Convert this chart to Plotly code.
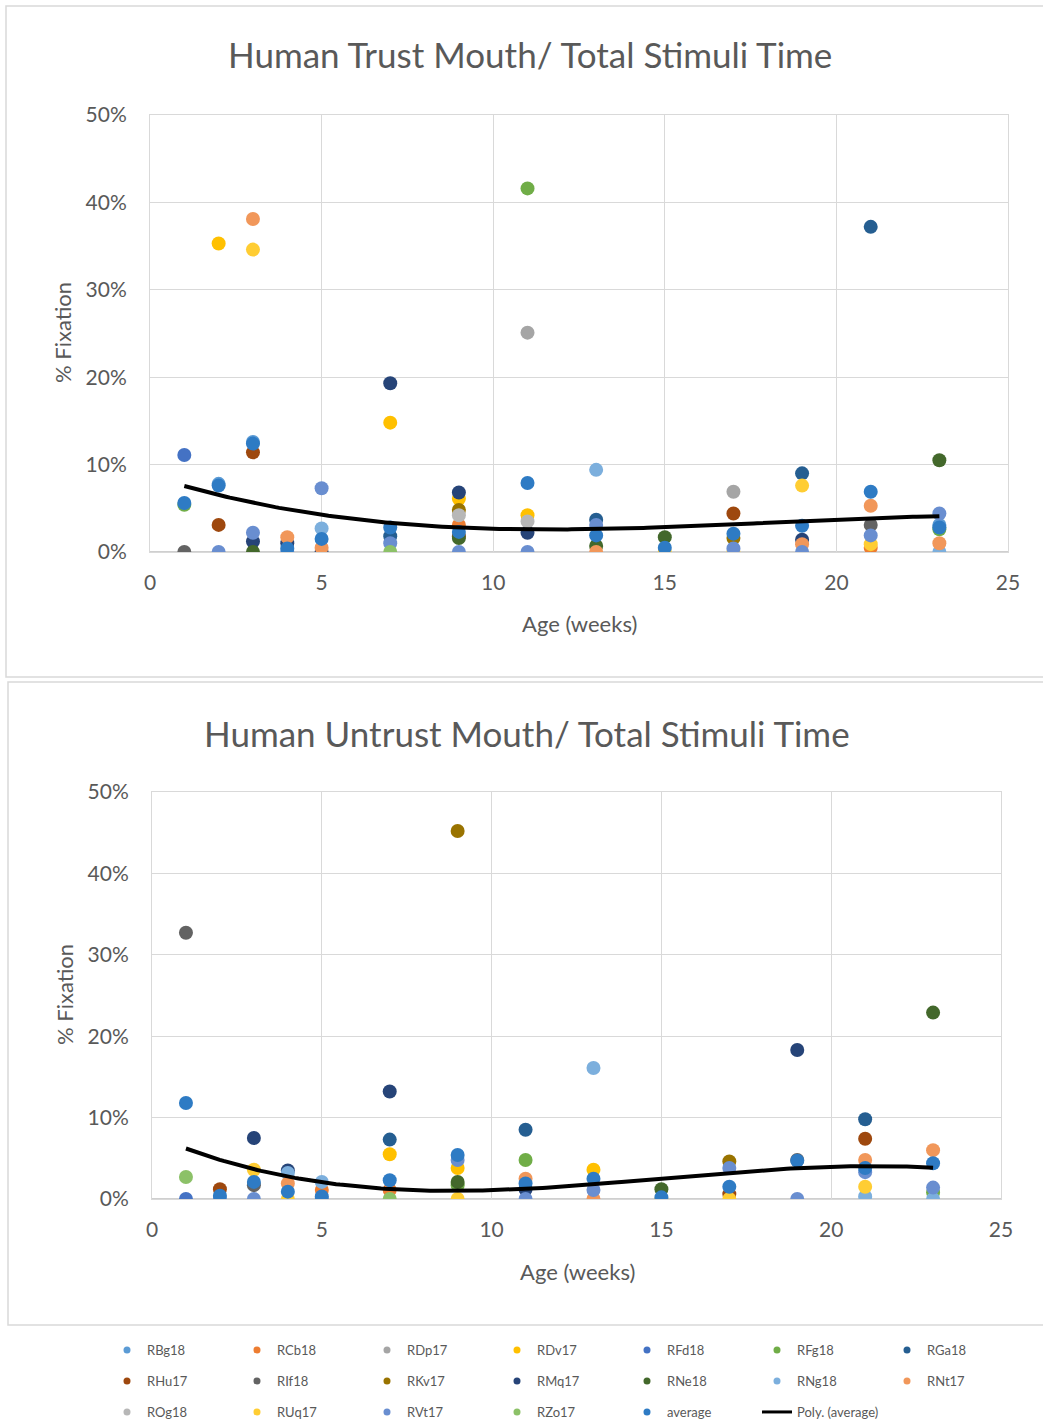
import numpy as np
import plotly.graph_objects as go

N = None
AGES = [1, 2, 3, 4, 5, 7, 9, 11, 13, 15, 17, 19, 21, 23]

NAMES = ["RBg18", "RCb18", "RDp17", "RDv17", "RFd18", "RFg18", "RGa18",
         "RHu17", "RIf18", "RKv17", "RMq17", "RNe18", "RNg18", "RNt17",
         "ROg18", "RUq17", "RVt17", "RZo17", "average"]
COLORS = ["#5B9BD5", "#ED7D31", "#A5A5A5", "#FFC000", "#4472C4", "#70AD47", "#255E91",
          "#9E480E", "#636363", "#997300", "#264478", "#43682B", "#7CAFDD", "#F1975A",
          "#B7B7B7", "#FFCD33", "#698ED0", "#8CC168", "#2E7BC4"]

# % fixation on the mouth, trusted face (per infant, per age in weeks)
t_RBg18 = [N, 7.8, 12.6, N, N, N, N, N, N, N, N, N, N, 3.1]
t_RCb18 = [N, N, N, N, N, N, 3.1, N, N, N, N, N, 0.5, N]
t_RDp17 = [N, N, N, N, N, N, N, 25.1, N, N, 6.9, N, N, N]
t_RDv17 = [N, 35.3, N, N, N, 14.8, 6.1, 4.2, N, N, N, N, N, N]
t_RFd18 = [11.1, N, N, N, N, N, N, N, N, N, N, N, N, N]
t_RFg18 = [5.4, N, N, N, N, N, N, 41.6, N, N, N, N, N, 2.6]
t_RGa18 = [N, N, N, N, N, 1.8, N, N, 3.7, N, N, 9.0, 37.2, N]
t_RHu17 = [N, 3.1, 11.4, N, N, N, 1.8, N, N, N, 4.4, N, N, N]
t_RIf18 = [0, N, N, N, N, N, N, N, N, N, N, N, 3.1, N]
t_RKv17 = [N, N, N, N, N, N, 4.8, N, N, N, 1.6, N, N, N]
t_RMq17 = [N, N, 1.2, 1.0, 0, 19.3, 6.8, 2.2, N, N, N, 1.4, N, N]
t_RNe18 = [N, N, 0, N, N, N, 1.6, N, 0.7, 1.7, N, N, N, 10.5]
t_RNg18 = [N, N, N, N, 2.7, N, N, N, 9.4, N, N, N, N, 0]
t_RNt17 = [N, N, 38.1, 1.7, 0.5, N, N, N, 0, N, N, 0.9, 5.3, 1.0]
t_ROg18 = [N, N, N, N, N, N, 4.2, 3.5, N, N, N, N, N, N]
t_RUq17 = [N, N, 34.6, N, N, N, N, N, N, 0, 0, 7.6, 0.9, N]
t_RVt17 = [N, 0, 2.2, 0, 7.3, 1.0, 0, 0, 3.1, N, 0.4, 0, 1.9, 4.4]
t_RZo17 = [N, N, N, N, N, 0, N, N, N, N, N, N, N, N]
t_average = [5.6, 7.6, 12.4, 0.4, 1.5, 2.8, 2.3, 7.9, 1.9, 0.5, 2.1, 3.0, 6.9, 2.8]

# % fixation on the mouth, untrusted face
u_RBg18 = [N] * 14
u_RCb18 = [N, N, N, N, 1.1, 1.1, N, N, N, N, N, N, N, N]
u_RDp17 = [N] * 14
u_RDv17 = [N, N, N, N, N, 5.5, 3.8, N, 3.6, N, N, N, N, N]
u_RFd18 = [0, N, N, N, N, N, N, N, N, N, N, N, N, N]
u_RFg18 = [N, N, N, N, N, N, 1.7, 4.8, N, N, N, N, N, 0.8]
u_RGa18 = [N, N, N, N, N, 7.3, N, 8.5, N, N, N, N, 9.8, N]
u_RHu17 = [N, 1.2, N, N, N, N, N, N, N, N, 0.6, N, 7.4, N]
u_RIf18 = [32.7, N, 1.7, N, N, N, N, N, N, N, N, 4.8, N, N]
u_RKv17 = [N, N, N, N, N, N, 45.2, N, N, N, 4.6, N, N, N]
u_RMq17 = [N, N, 7.5, 3.5, N, 13.2, N, 1.2, N, N, N, 18.3, N, N]
u_RNe18 = [N, N, N, N, N, N, 2.1, N, N, 1.2, N, N, N, 22.9]
u_RNg18 = [N, N, N, 3.2, 2.1, N, N, N, 16.1, N, N, N, 0.3, 0]
u_RNt17 = [N, N, N, 1.9, N, N, N, 2.5, 0, N, N, N, 4.8, 6.0]
u_ROg18 = [N] * 14
u_RUq17 = [N, N, 3.6, 0, N, N, 0, N, N, 0, 0, N, 1.5, N]
u_RVt17 = [N, 0, 0, N, 0, N, 4.8, 0, 1.1, N, 3.8, 0, 3.3, 1.4]
u_RZo17 = [2.7, N, N, N, N, 0, N, N, N, N, N, N, N, N]
u_average = [11.8, 0.4, 2.1, 0.9, 0.3, 2.3, 5.4, 1.9, 2.5, 0.2, 1.5, 4.7, 3.8, 4.4]

TITLE_TRUST = "Human Trust Mouth/ Total Stimuli Time"
TITLE_UNTRUST = "Human Untrust Mouth/ Total Stimuli Time"

trust = {n: globals()["t_" + n] for n in NAMES}
untrust = {n: globals()["u_" + n] for n in NAMES}

W, H = 1043, 1423
FONT = "Lato, Carlito, Calibri, sans-serif"
TXT = "#595959"
GRID = "#D9D9D9"


def px_x(p):
    return p / W


def px_y(p):
    return 1 - p / H


fig = go.Figure()

panels = [
    (trust, "x", "y"),
    (untrust, "x2", "y2"),
]
for data, xa, ya in panels:
    for name, color in zip(NAMES, COLORS):
        fig.add_trace(go.Scatter(
            x=AGES, y=data[name], mode="markers", name=name,
            xaxis=xa, yaxis=ya, showlegend=False,
            marker=dict(size=14, color=color, line=dict(width=0)),
        ))
    # third-order polynomial trendline of the average series
    coef = np.polyfit(AGES, data["average"], 3)
    xs = np.linspace(min(AGES), max(AGES), 200)
    fig.add_trace(go.Scatter(
        x=xs, y=np.polyval(coef, xs), mode="lines", name="Poly. (average)",
        xaxis=xa, yaxis=ya, showlegend=False,
        line=dict(color="black", width=4),
    ))

# legend entries, split across three rows
rows = [NAMES[0:7], NAMES[7:14], NAMES[14:19]]
legend_keys = ["legend", "legend2", "legend3"]
for key, row in zip(legend_keys, rows):
    for name in row:
        fig.add_trace(go.Scatter(
            x=[None], y=[None], mode="markers", name=name,
            xaxis="x2", yaxis="y2", legend=key,
            marker=dict(size=7, color=COLORS[NAMES.index(name)]),
        ))
fig.add_trace(go.Scatter(
    x=[None], y=[None], mode="lines", name="Poly. (average)",
    xaxis="x2", yaxis="y2", legend="legend3",
    line=dict(color="black", width=3),
))

axis_common = dict(
    range=[0, 25], dtick=5, showgrid=True, gridcolor=GRID, gridwidth=1,
    zeroline=False, showline=True, mirror=True, linecolor=GRID, linewidth=1,
    ticks="", ticklabelstandoff=12,
    tickfont=dict(family=FONT, size=21, color=TXT),
)
yaxis_common = dict(
    range=[0, 50], dtick=10, ticksuffix="%", showgrid=True, gridcolor=GRID,
    gridwidth=1, zeroline=False, showline=True, mirror=True, linecolor=GRID,
    linewidth=1, ticks="",
    tickfont=dict(family=FONT, size=21, color=TXT), ticklabelstandoff=18,
)

legend_common = dict(
    orientation="h", entrywidth=85, entrywidthmode="pixels",
    font=dict(family=FONT, size=13, color=TXT), bgcolor="rgba(0,0,0,0)",
    xanchor="left", yanchor="middle", itemwidth=30,
)

fig.update_layout(
    width=W, height=H, margin=dict(l=0, r=0, t=0, b=0, autoexpand=False),
    paper_bgcolor="white", plot_bgcolor="white",
    xaxis=dict(domain=[px_x(150), px_x(1008)], anchor="y", **axis_common),
    yaxis=dict(domain=[px_y(552), px_y(115)], anchor="x", **yaxis_common),
    xaxis2=dict(domain=[px_x(152), px_x(1001)], anchor="y2", **axis_common),
    yaxis2=dict(domain=[px_y(1199), px_y(792)], anchor="x2", **yaxis_common),
    legend=dict(x=px_x(107), y=px_y(1350), **legend_common),
    legend2=dict(x=px_x(107), y=px_y(1381), **legend_common),
    legend3=dict(x=px_x(107), y=px_y(1412), **legend_common),
    showlegend=True,
)

# outer frames of the two chart areas
for x0, y0, x1, y1 in [(6, 6, 1050, 677), (8, 682, 1050, 1325)]:
    fig.add_shape(type="rect", xref="paper", yref="paper",
                  x0=px_x(x0), x1=px_x(x1), y0=px_y(y1), y1=px_y(y0),
                  line=dict(color=GRID, width=1.5), fillcolor="rgba(0,0,0,0)")

# horizontal axis line along 0% (slightly darker than the grid)
for xa0, xa1, yb in [(150, 1008, 552), (152, 1001, 1199)]:
    fig.add_shape(type="line", xref="paper", yref="paper",
                  x0=px_x(xa0), x1=px_x(xa1), y0=px_y(yb), y1=px_y(yb),
                  line=dict(color="#BFBFBF", width=1.5), layer="below")

texts = [
    (TITLE_TRUST, 530, 54, 35, 0),
    (TITLE_UNTRUST, 527, 733, 35, 0),
    ("% Fixation", 62, 333, 22, -90),
    ("% Fixation", 64, 995, 22, -90),
    ("Age (weeks)", 579, 624, 22, 0),
    ("Age (weeks)", 577, 1271, 22, 0),
]
for t, x, y, s, ang in texts:
    fig.add_annotation(text=t, x=px_x(x), y=px_y(y), xref="paper", yref="paper",
                       showarrow=False, xanchor="center", yanchor="middle",
                       textangle=ang, font=dict(family=FONT, size=s, color=TXT))

fig.write_html("out.html")
